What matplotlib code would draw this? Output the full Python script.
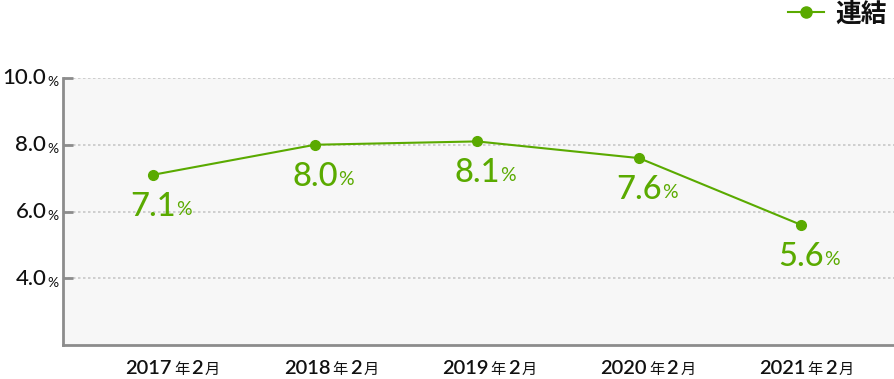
import matplotlib
matplotlib.use("Agg")
import matplotlib.pyplot as plt
from matplotlib.lines import Line2D

plt.rcParams['font.family'] = ['Lato', 'Noto Sans CJK JP', 'DejaVu Sans']

categories = ["2017", "2018", "2019", "2020", "2021"]
month = "2"
values = [7.1, 8.0, 8.1, 7.6, 5.6]
yticks = [4.0, 6.0, 8.0, 10.0]
series_name = "連結"

green = "#5aaa00"
spine_gray = "#8c8c8c"
dark = "#111111"

fig = plt.figure(figsize=(8.95, 3.79), dpi=100)
ax = fig.add_axes([0.0704, 0.0897, 0.9296, 0.7045])
ax.set_facecolor("#f7f7f7")
ax.set_xlim(-0.556, 4.58)
ax.set_ylim(2.0, 10.0)

for s in ["top", "right"]:
    ax.spines[s].set_visible(False)
for s in ["left", "bottom"]:
    ax.spines[s].set_color(spine_gray)
    ax.spines[s].set_linewidth(2)

ax.set_xticks([])
ax.set_yticks(yticks)
ax.set_yticklabels([])
ax.tick_params(axis="y", direction="in", length=7, width=2, color=spine_gray)
for y in yticks:
    ax.axhline(y, color="#c8c8c8", lw=1.2, ls=(0, (1.5, 1.5)), zorder=0)

x = list(range(len(categories)))
ax.plot(x, values, color=green, lw=1.5, marker="o", ms=7, zorder=3, clip_on=False)

# data labels
for i, v in enumerate(values):
    t = ax.annotate(f"{v:.1f}", xy=(i, v), xytext=(0, -23), textcoords="offset points",
                    ha="center", va="center", fontsize=23.5, color=green, fontweight="medium")
    ax.annotate("%", xy=(1, 0), xycoords=t, xytext=(0, 3), textcoords="offset points",
                ha="left", va="bottom", fontsize=14, color=green)

# y tick labels
for y in yticks:
    p = ax.annotate("%", xy=(0, y), xycoords=("axes fraction", "data"), xytext=(-3.5, -6),
                    textcoords="offset points", ha="right", va="baseline", fontsize=10, color=dark)
    ax.annotate(f"{y:.1f}", xy=(0, 0), xycoords=p, xytext=(-0.5, 0), textcoords="offset points",
                ha="right", va="bottom", fontsize=16, color=dark, fontweight="medium")

# x tick labels (category labels)
for i, c in enumerate(categories):
    xl = i * 0.978 + 0.123
    t1 = ax.annotate(c, xy=(xl, 0), xycoords=("data", "axes fraction"), xytext=(-17.6, -21),
                     textcoords="offset points", ha="center", va="baseline", fontsize=14.5,
                     color=dark, fontweight="semibold")
    t2 = ax.annotate("年", xy=(1, 0), xycoords=t1, xytext=(1.5, 0), textcoords="offset points",
                     ha="left", va="bottom", fontsize=11, color=dark)
    t3 = ax.annotate(month, xy=(1, 0), xycoords=t2, xytext=(1.5, 0), textcoords="offset points",
                     ha="left", va="bottom", fontsize=14.5, color=dark, fontweight="semibold")
    ax.annotate("月", xy=(1, 0), xycoords=t3, xytext=(1.5, 0), textcoords="offset points",
                ha="left", va="bottom", fontsize=11, color=dark)

# legend
handle = Line2D([0], [0], color=green, lw=1.5, marker="o", ms=8)
leg = fig.legend([handle], [series_name], loc="upper right", bbox_to_anchor=(1.017, 1.058),
                 frameon=False, fontsize=18.5, handlelength=1.4, handletextpad=0.45)
for txt in leg.get_texts():
    txt.set_fontweight("bold")
    txt.set_color(dark)

fig.savefig("out.png", dpi=100)
